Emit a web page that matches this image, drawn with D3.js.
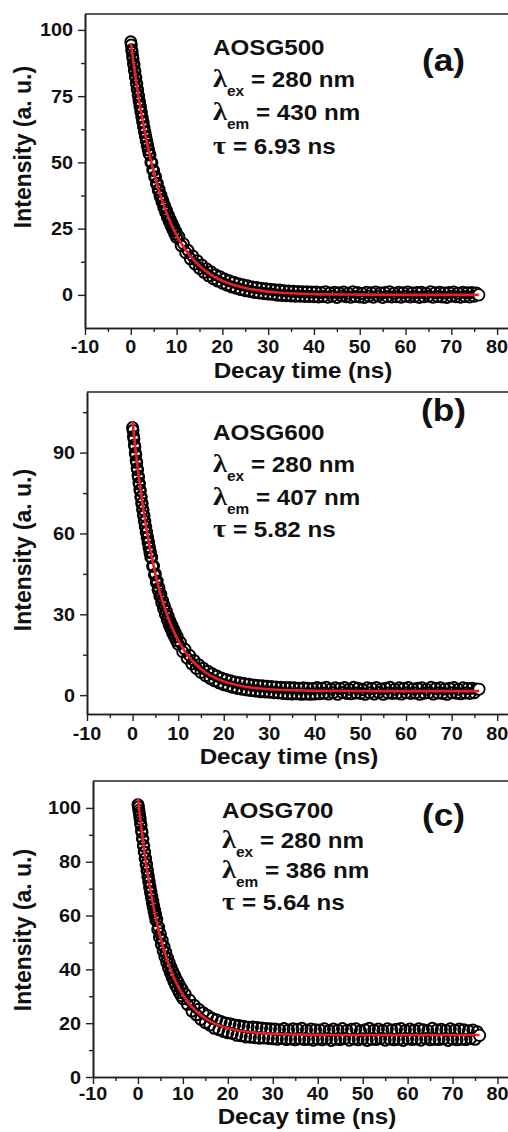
<!DOCTYPE html>
<html>
<head>
<meta charset="utf-8">
<script src="https://cdn.jsdelivr.net/npm/d3@7"></script>
<style>
  html, body { margin: 0; padding: 0; background: #fff; }
  svg { display: block; }
  text { font-family: "Liberation Sans", Arial, sans-serif; font-weight: bold; fill: #111; }
</style>
</head>
<body>
<svg id="chart" width="508" height="1132"></svg>
<script>
// ---- measurement channels (ns): fine sampling at the rise, coarser in the tail ----
const timeNs = [].concat(
  d3.range(0, 41).map(i => i / 10),
  d3.range(21, 51).map(i => i / 5),
  d3.range(21, 153).map(i => i / 2)
);

// ---- measured intensities (a. u.) ----
const intensityA = [
  95.5, 94.3, 92.5, 91.8, 90.0, 89.1, 87.3, 86.7, 84.8, 84.3,
  82.4, 81.8, 80.0, 79.5, 77.6, 77.4, 75.5, 75.0, 73.3, 72.9,
  71.2, 71.0, 69.2, 68.9, 67.2, 66.9, 65.2, 65.1, 63.4, 63.1,
  61.6, 61.3, 59.8, 59.6, 58.1, 57.9, 56.4, 56.3, 54.8, 54.7, 53.3,
  52.8, 50.0, 49.9, 47.1, 46.9, 44.5, 44.6, 41.9, 42.1, 39.5,
  39.8, 37.2, 37.6, 35.1, 35.6, 33.0, 33.7, 31.2, 31.9, 29.3,
  30.1, 27.6, 28.5, 26.0, 27.0, 24.5, 25.5, 23.0, 24.1, 21.7,
  22.0, 18.6, 19.3, 15.9, 16.8, 13.6, 14.7, 11.7, 12.9, 10.0,
  11.3, 8.5, 9.9, 7.2, 8.7, 6.1, 7.6, 5.2, 6.8, 4.4,
  6.0, 3.7, 5.3, 3.0, 4.8, 2.5, 4.2, 2.0, 3.8, 1.6,
  3.4, 1.3, 3.0, 0.9, 2.8, 0.7, 2.5, 0.5, 2.3, 0.3,
  2.1, 0.2, 1.9, -0.1, 1.8, -0.2, 1.6, -0.3, 1.5, -0.4,
  1.4, -0.5, 1.3, -0.5, 1.2, -0.6, 1.2, -0.6, 1.1, -0.7,
  1.1, -0.8, 0.9, -0.6, 1.2, -0.9, 0.7, -0.5, 1.0, -1.0,
  0.8, -0.4, 1.1, -0.7, 0.6, -0.9, 1.2, -0.6, 0.9, -0.8,
  0.5, -1.0, 1.0, -0.5, 0.8, -0.9, 1.1, -0.4, 0.7, -1.0,
  0.9, -0.6, 1.2, -0.8, 0.6, -0.7, 1.0, -0.9, 0.8, -0.5,
  1.1, -0.8, 0.7, -0.6, 0.9, -1.0, 1.0, -0.7, 0.6, -0.5,
  1.2, -0.9, 0.8, -0.6, 1.0, -0.8, 0.7, -1.0, 0.9, -0.5,
  1.1, -0.7, 0.6, -0.9, 1.0, -0.6, 0.8, -0.8, 0.9, -0.5,
  0.7, 0.0
];
const intensityB = [
  99.3, 98.2, 96.0, 95.1, 92.8, 92.1, 89.8, 89.1, 86.9, 86.3,
  84.1, 83.6, 81.3, 80.9, 78.7, 78.3, 76.1, 75.9, 73.6, 73.4,
  71.2, 71.1, 68.9, 68.8, 66.7, 66.6, 64.5, 64.5, 62.4, 62.5,
  60.4, 60.5, 58.4, 58.6, 56.5, 56.8, 54.7, 55.0, 52.9, 53.3, 51.2,
  51.1, 47.8, 47.9, 44.6, 45.0, 41.8, 42.3, 39.0, 39.8, 36.7,
  37.4, 34.2, 35.1, 32.1, 33.1, 30.0, 31.2, 28.0, 29.3, 26.2,
  27.6, 24.6, 26.0, 23.0, 24.5, 21.6, 23.1, 20.2, 21.7, 18.9,
  19.6, 16.1, 17.0, 13.7, 14.8, 11.6, 12.9, 9.9, 11.3, 8.4,
  10.0, 7.2, 8.9, 6.2, 7.9, 5.3, 7.1, 4.5, 6.4, 3.9,
  5.8, 3.4, 5.3, 2.9, 4.9, 2.5, 4.6, 2.2, 4.3, 1.9,
  4.0, 1.7, 3.8, 1.5, 3.6, 1.3, 3.5, 1.2, 3.3, 1.1,
  3.2, 0.9, 3.0, 0.8, 2.9, 0.6, 2.8, 0.5, 2.8, 0.4,
  2.7, 0.5, 2.6, 0.3, 2.7, 0.4, 2.6, 0.3, 2.5, 0.4,
  2.8, 0.5, 2.6, 0.7, 2.9, 0.4, 2.3, 0.9, 2.7, 0.3,
  2.5, 1.0, 2.8, 0.6, 2.2, 0.5, 2.9, 0.8, 2.6, 0.6,
  2.1, 0.3, 2.7, 0.9, 2.5, 0.4, 2.8, 1.0, 2.3, 0.3,
  2.6, 0.8, 2.9, 0.6, 2.2, 0.7, 2.7, 0.4, 2.5, 0.9,
  2.8, 0.6, 2.3, 0.8, 2.6, 0.3, 2.7, 0.7, 2.2, 0.9,
  2.9, 0.4, 2.5, 0.8, 2.7, 0.6, 2.3, 0.3, 2.6, 0.9,
  2.8, 0.7, 2.2, 0.5, 2.7, 0.8, 2.5, 0.6, 2.6, 0.9,
  2.3, 2.2
];
const intensityC = [
  101.2, 100.3, 99.1, 98.2, 96.9, 95.8, 94.2, 93.5, 91.4, 90.9,
  88.6, 88.4, 86.0, 85.9, 83.6, 83.5, 81.2, 81.3, 78.9, 79.1,
  76.7, 76.9, 74.5, 74.8, 72.5, 72.7, 70.4, 70.8, 68.5, 68.9,
  66.6, 67.1, 64.8, 65.4, 63.1, 63.7, 61.4, 62.0, 59.8, 60.5, 58.2,
  58.6, 54.8, 55.7, 51.9, 53.2, 49.3, 50.8, 46.9, 48.5, 44.6,
  46.3, 42.6, 44.2, 40.5, 42.4, 38.8, 40.7, 37.1, 39.1, 35.4,
  37.7, 34.0, 36.2, 32.7, 35.0, 31.3, 33.7, 30.2, 32.6, 29.1,
  30.8, 27.0, 28.6, 24.5, 26.7, 23.1, 25.2, 21.4, 23.9, 20.2,
  22.9, 19.3, 21.8, 18.1, 21.3, 17.6, 20.6, 16.9, 20.1, 16.4,
  19.8, 16.2, 19.3, 15.5, 19.1, 15.3, 18.9, 14.9, 18.5, 14.8,
  18.6, 14.6, 18.4, 14.4, 18.2, 14.5, 18.0, 14.3, 17.9, 14.2,
  17.8, 14.0, 17.6, 14.3, 18.0, 13.9, 17.5, 14.1, 17.9, 13.8,
  17.7, 14.2, 18.1, 13.9, 17.4, 14.0, 17.8, 13.7, 17.6, 14.1,
  17.5, 13.8, 17.9, 14.2, 17.2, 13.6, 17.8, 14.0, 17.4, 13.9,
  18.0, 14.3, 17.3, 13.7, 17.7, 14.1, 17.9, 13.8, 17.1, 14.2,
  17.6, 13.6, 18.1, 14.0, 17.4, 13.9, 17.8, 14.3, 17.2, 13.7,
  17.9, 14.1, 17.5, 13.8, 17.7, 14.0, 18.0, 13.6, 17.3, 14.2,
  17.8, 13.9, 17.4, 14.1, 17.9, 13.7, 17.6, 14.3, 17.2, 13.8,
  18.1, 14.0, 17.5, 13.9, 17.7, 14.2, 17.3, 13.6, 17.9, 14.1,
  17.4, 13.8, 17.8, 14.0, 17.6, 13.9, 17.2, 14.3, 17.5, 14.0,
  16.8, 15.5
];

// ---- exponential fits (red curves) ----
const fitTimeNs = [0, 0.5, 1, 1.5, 2, 2.5, 3, 4, 5, 6, 7, 8, 9, 10, 11, 12, 14, 16, 18, 20, 22, 25, 28, 32, 36, 40, 50, 60, 70, 76];
const fitA = [95.0, 88.8, 82.6, 76.9, 71.5, 66.5, 61.9, 53.6, 46.4, 40.2, 34.8, 30.1, 26.0, 22.5, 19.5, 16.9, 12.7, 9.5, 7.1, 5.3, 4.0, 2.6, 1.7, 0.9, 0.5, 0.3, 0.1, 0.0, 0.0, 0.0];
const fitB = [101.5, 93.5, 86.1, 79.4, 73.2, 67.4, 62.2, 52.8, 45.0, 38.3, 32.6, 27.9, 23.8, 20.4, 17.5, 15.0, 11.2, 8.4, 6.5, 5.1, 4.1, 3.05, 2.44, 1.98, 1.75, 1.63, 1.52, 1.5, 1.5, 1.5];
const fitC = [103.6, 96.1, 89.3, 83.0, 77.3, 72.1, 67.3, 58.9, 51.9, 46.0, 41.0, 36.9, 33.4, 30.6, 28.1, 26.1, 23.0, 20.8, 19.2, 18.1, 17.4, 16.7, 16.2, 15.9, 15.75, 15.67, 15.6, 15.6, 15.6, 15.6];

// ---- ticks ----
const xMajorTicks = [-10, 0, 10, 20, 30, 40, 50, 60, 70, 80];
const xMinorTicks = [-5, 5, 15, 25, 35, 45, 55, 65, 75];
const yMajorTicksA = [0, 25, 50, 75, 100];
const yMinorTicksA = [12.5, 37.5, 62.5, 87.5];
const yMajorTicksB = [0, 30, 60, 90];
const yMinorTicksB = [15, 45, 75, 105];
const yMajorTicksC = [0, 20, 40, 60, 80, 100];
const yMinorTicksC = [10, 30, 50, 70, 90];

// ---- annotations ----
const sampleNames = ["AOSG500", "AOSG600", "AOSG700"];
const excitationNm = [280, 280, 280];
const emissionNm = [430, 407, 386];
const lifetimeNs = ["6.93", "5.82", "5.64"];
const panelTags = ["(a)", "(b)", "(c)"];
const xTitle = "Decay time (ns)";
const yTitle = "Intensity (a. u.)";

// ---- panel layout ----
const panels = [
  { data: intensityA, fit: fitA, yMajor: yMajorTicksA, yMinor: yMinorTicksA, yDomain: [-12.5, 106],
    left: 85, top: 14, bottom: 328, tickBase: 353, xTitleX: 303, xTitleBase: 378, yTitleY: 147,
    annotX: 213, annotBase: [55, 87, 120, 154], tagX: 422, tagBase: 71 },
  { data: intensityB, fit: fitB, yMajor: yMajorTicksB, yMinor: yMinorTicksB, yDomain: [-7, 112.5],
    left: 87, top: 392, bottom: 714, tickBase: 740, xTitleX: 289, xTitleBase: 764, yTitleY: 550,
    annotX: 213, annotBase: [440, 472, 505, 537], tagX: 421, tagBase: 421 },
  { data: intensityC, fit: fitC, yMajor: yMajorTicksC, yMinor: yMinorTicksC, yDomain: [0, 110],
    left: 93, top: 781, bottom: 1077, tickBase: 1100, xTitleX: 307, xTitleBase: 1124, yTitleY: 930,
    annotX: 222, annotBase: [818, 848, 878, 910], tagX: 422, tagBase: 826 }
];

const svg = d3.select("#chart");
const RIGHT = 520;          // frame continues past the page edge
const STRETCH = "scale(1.1,1)";
const SERIF = "'Liberation Serif', 'DejaVu Serif', 'Times New Roman', serif";

panels.forEach((p, i) => {
  const g = svg.append("g");
  const x = d3.scaleLinear().domain([-10, 85]).range([p.left, RIGHT]);
  const y = d3.scaleLinear().domain(p.yDomain).range([p.bottom, p.top]);

  // frame top edge
  g.append("line").attr("x1", p.left).attr("x2", RIGHT + 5)
    .attr("y1", p.top).attr("y2", p.top)
    .attr("stroke", "#222").attr("stroke-width", 1.6);

  // axes
  const axisStyle = sel => {
    sel.selectAll("path.domain").attr("stroke", "#222").attr("stroke-width", 1.6);
    sel.selectAll(".tick line").attr("stroke", "#222").attr("stroke-width", 1.4);
  };
  g.append("g").attr("transform", `translate(0,${p.bottom})`)
    .call(d3.axisBottom(x).tickValues(xMinorTicks).tickSize(4).tickSizeOuter(0).tickFormat(""))
    .call(axisStyle);
  g.append("g").attr("transform", `translate(0,${p.bottom})`)
    .call(d3.axisBottom(x).tickValues(xMajorTicks).tickSize(7).tickSizeOuter(0).tickFormat(""))
    .call(axisStyle);
  g.append("g").attr("transform", `translate(${p.left},0)`)
    .call(d3.axisLeft(y).tickValues(p.yMinor).tickSize(4).tickSizeOuter(0).tickFormat(""))
    .call(axisStyle);
  g.append("g").attr("transform", `translate(${p.left},0)`)
    .call(d3.axisLeft(y).tickValues(p.yMajor).tickSize(7).tickSizeOuter(0).tickFormat(""))
    .call(axisStyle);

  // tick labels
  g.append("g").selectAll("text").data(xMajorTicks).join("text")
    .attr("transform", d => `translate(${x(d)},${p.tickBase}) ${STRETCH}`)
    .attr("text-anchor", "middle").attr("font-size", 18)
    .text(d => d);
  g.append("g").selectAll("text").data(p.yMajor).join("text")
    .attr("transform", d => `translate(${p.left - 12},${y(d) + 6.5}) ${STRETCH}`)
    .attr("text-anchor", "end").attr("font-size", 18)
    .text(d => d);

  // axis titles
  g.append("text")
    .attr("transform", `translate(${p.xTitleX},${p.xTitleBase}) ${STRETCH}`)
    .attr("text-anchor", "middle").attr("font-size", 22)
    .text(xTitle);
  g.append("text")
    .attr("transform", `translate(31,${p.yTitleY}) rotate(-90)`)
    .attr("text-anchor", "middle").attr("font-size", 23)
    .text(yTitle);

  // measured points (open circles)
  const pts = timeNs.map((t, k) => ({ t, v: p.data[k] })).filter(d => d.v !== undefined);
  g.append("g").selectAll("circle").data(pts).join("circle")
    .attr("cx", d => x(d.t)).attr("cy", d => y(d.v)).attr("r", 5.5)
    .attr("fill", "none").attr("stroke", "#000").attr("stroke-width", 2);
  // last channel sits on top with an open face
  const last = pts[pts.length - 1];
  g.append("circle").attr("cx", x(last.t)).attr("cy", y(last.v)).attr("r", 5.5)
    .attr("fill", "#fff").attr("stroke", "#000").attr("stroke-width", 1.4);

  // fitted curve
  const fitPts = fitTimeNs.map((t, k) => ({ t, v: p.fit[k] }));
  g.append("path").datum(fitPts)
    .attr("d", d3.line().x(d => x(d.t)).y(d => y(d.v)).curve(d3.curveMonotoneX))
    .attr("fill", "none").attr("stroke", "#e8202a").attr("stroke-width", 2.6);

  // annotation block
  const a = g.append("g");
  a.append("text").attr("transform", `translate(${p.annotX},${p.annotBase[0]}) ${STRETCH}`)
    .attr("font-size", 22).text(sampleNames[i]);

  const sub = (line, symbol, subscript, rest) => {
    const t = a.append("text").attr("transform", `translate(${p.annotX},${p.annotBase[line]}) ${STRETCH}`)
      .attr("font-size", 22);
    t.append("tspan").style("font-family", SERIF).style("font-weight", "bold")
      .style("font-size", "26px").text(symbol);
    if (subscript) {
      t.append("tspan").style("font-size", "14px").attr("dy", 9).text(subscript);
      t.append("tspan").attr("dy", -9).text("\u00a0" + rest);
    } else {
      t.append("tspan").text("\u00a0" + rest);
    }
  };
  sub(1, "\u03bb", "ex", `= ${excitationNm[i]} nm`);
  sub(2, "\u03bb", "em", `= ${emissionNm[i]} nm`);
  sub(3, "\u03c4", null, `= ${lifetimeNs[i]} ns`);

  g.append("text").attr("transform", `translate(${p.tagX},${p.tagBase}) ${STRETCH}`)
    .attr("font-size", 32).text(panelTags[i]);
});
</script>
</body>
</html>
